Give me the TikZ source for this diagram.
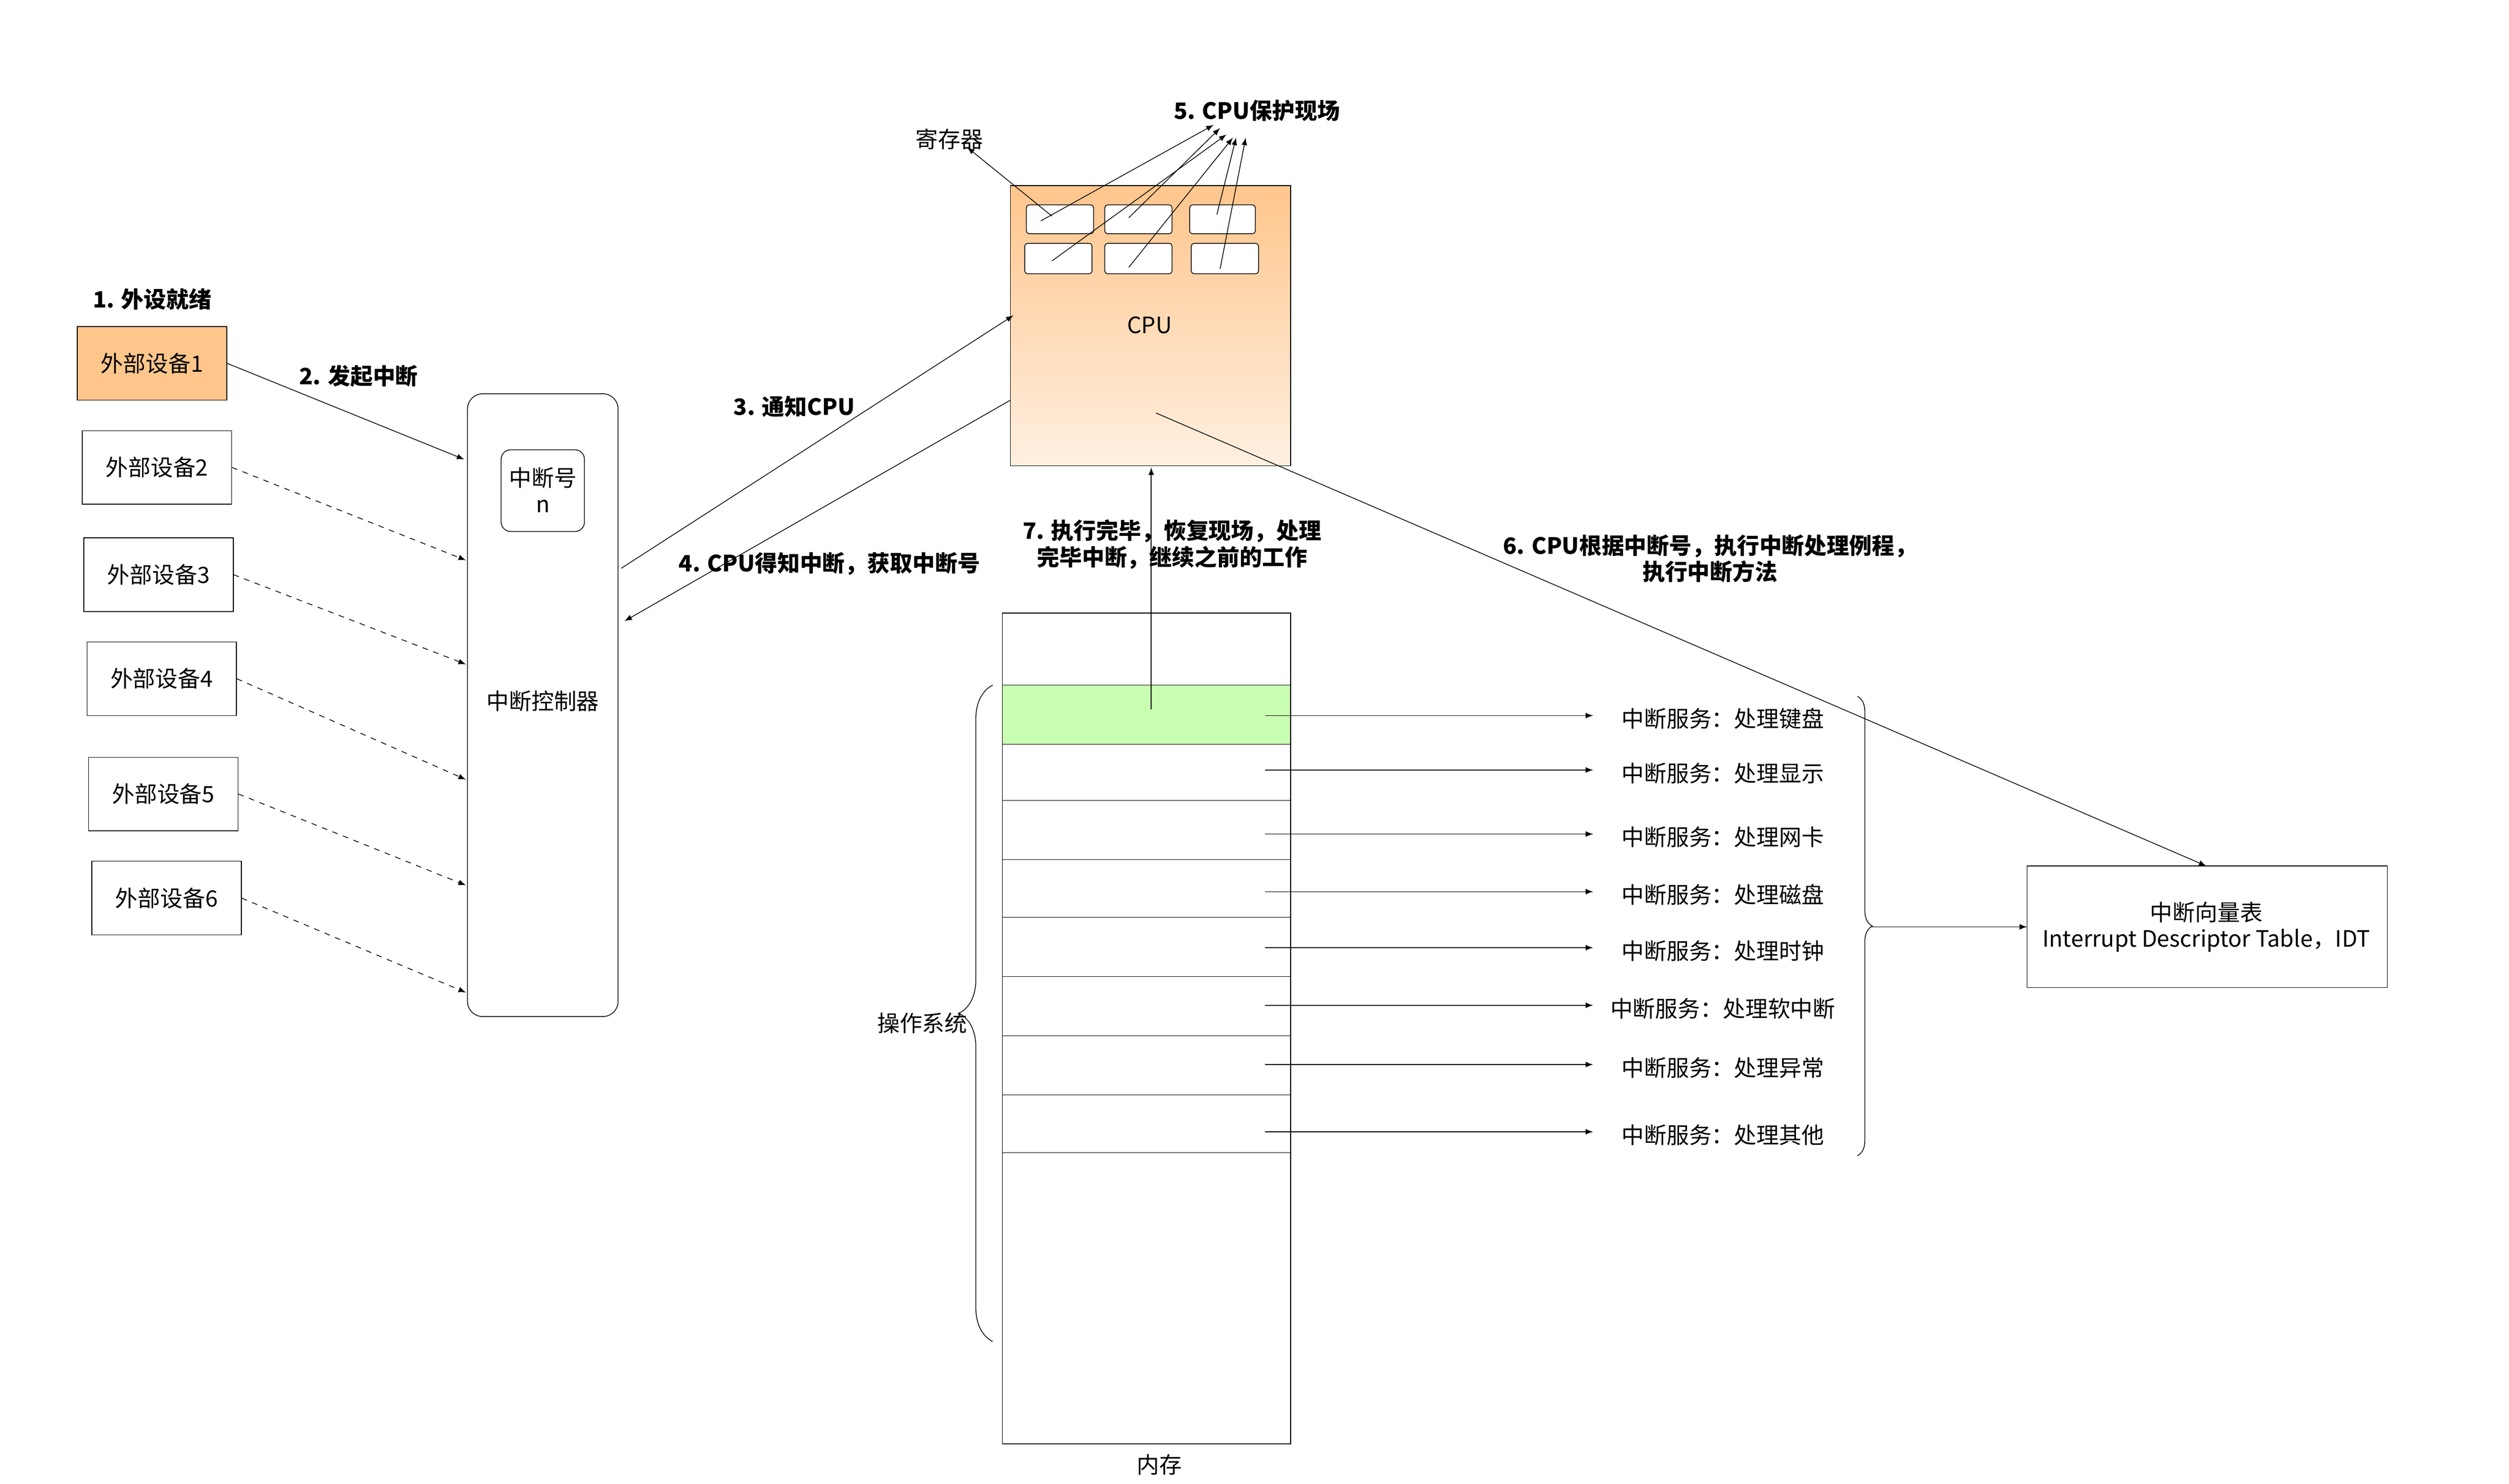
\documentclass[tikz,border=0pt]{standalone}
\usepackage{fontspec}
\setmainfont{Noto Sans CJK SC}
\usetikzlibrary{decorations.pathreplacing}
\tikzset{
  dev/.style={draw,minimum width=2.8cm,minimum height=1.38cm,font=\large},
  lbl/.style={font=\large\bfseries,align=center},
  svc/.style={font=\large,anchor=center},
  reg/.style={draw,rounded corners=1.5pt,fill=white},
  arr/.style={-latex},
}
\begin{document}
\begin{tikzpicture}[x=0.03cm,y=-0.03cm]
\useasboundingbox (0,0) rectangle (1567,927);

%devices
\node[lbl] (rdy) at (95,187) {1. 外设就绪};
\node[dev,fill=orange!45] (d1) at (95,227) {外部设备1};
\node[dev] (d2) at (98,292) {外部设备2};
\node[dev] (d3) at (99,359) {外部设备3};
\node[dev] (d4) at (101,424) {外部设备4};
\node[dev] (d5) at (102,496) {外部设备5};
\node[dev] (d6) at (104,561) {外部设备6};

%controller
\draw[rounded corners=8pt] (292,246) rectangle (386,635);
\draw[rounded corners=5pt] (313,281) rectangle (365,332);
\node[font=\large,align=center] (num) at (339,306) {中断号\\n};
\node[font=\large] (ctl) at (339,438) {中断控制器};
\coordinate (c1) at (290,287);
\draw[arr] (d1.east) -- (c1);
\node[lbl] (l2) at (224,235) {2. 发起中断};
\foreach \d/\y in {d2/350,d3/415,d4/487,d5/553,d6/620}
  \draw[arr,dashed] (\d.east) -- (291,\y);

%cpu
\shade[top color=orange!45,bottom color=orange!12,draw=black] (631,116) rectangle (806,291);
\node[font=\large] (cpu) at (718,203) {CPU};
\foreach \a/\b/\c/\d in {641/128/683/146,690/128/732/146,743/128/784/146,640/152/682/171,690/152/732/171,744/152/786/171}
  \draw[reg] (\a,\b) rectangle (\c,\d);
\node[font=\large] (regs) at (593,87) {寄存器};
\node[lbl] (l5) at (785,69) {5. CPU保护现场};
\draw[arr] (657,135) -- (604,92);
\draw[arr] (650,138) -- (758,78);
\draw[arr] (705,136) -- (762,80);
\draw[arr] (657,163) -- (766,84);
\draw[arr] (705,167) -- (770,86);
\draw[arr] (760,134) -- (772,86);
\draw[arr] (762,168) -- (778,86);

\draw[arr] (388,355) -- (633,197);
\node[lbl] (l3) at (496,254) {3. 通知CPU};
\draw[arr] (631,250) -- (390,388);
\node[lbl] (l4) at (518,352) {4. CPU得知中断，获取中断号};

%memory
\draw (626,383) rectangle (806,902);
\node[font=\large] (mem) at (724,915) {内存};
\draw[fill=lime!40!green!30] (626,428) rectangle (806,465);
\foreach \y in {500,537,573,610,647,684,720}
  \draw (626,\y) -- (806,\y);
\draw[arr] (719,443) -- (719,292);
\node[lbl] (l7) at (732,340) {7. 执行完毕，恢复现场，处理\\完毕中断，继续之前的工作};
\draw[decorate,decoration={brace,amplitude=18pt}] (620,838) -- (620,428);
\node[font=\large] (os) at (576,639) {操作系统};

%services
\foreach \y/\t in {447/处理键盘,481/处理显示,521/处理网卡,557/处理磁盘,592/处理时钟,628/处理软中断,665/处理异常,707/处理其他}{
  \draw[arr] (790,\y) -- (995,\y);
  \node[svc] at (1076,\y+2) {中断服务：\t};
}
\draw[decorate,decoration={brace,amplitude=8pt}] (1160,435) -- (1160,722);
\draw[arr] (1168,579) -- (1266,579);

%idt
\draw (1266,541) rectangle (1491,617);
\node[font=\large,align=center] (idt) at (1378,579) {中断向量表\\Interrupt Descriptor Table，IDT};
\draw[arr] (722,258) -- (1378,541);
\node[lbl] (l6) at (1068,349) {6. CPU根据中断号，执行中断处理例程，\\执行中断方法};
\end{tikzpicture}
\end{document}
